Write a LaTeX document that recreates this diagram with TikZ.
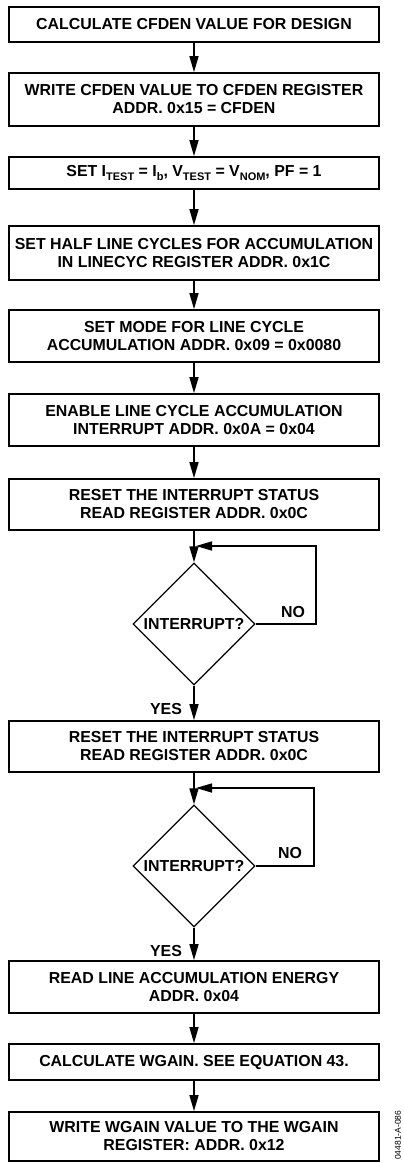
\documentclass[tikz,border=0pt]{standalone}
\usepackage{fontspec}
\setmainfont{Liberation Sans}
\usetikzlibrary{arrows.meta,shapes.geometric}
\newcommand\lsub[1]{\raisebox{-3.5pt}{\fontsize{11}{11}\selectfont #1}}
\begin{document}
\begin{tikzpicture}[x=1pt,y=-1pt,
  txt/.style={font=\bfseries\fontsize{15.9}{18}\selectfont},
  box/.style={txt, draw, line width=1.8pt, minimum width=370pt, inner sep=0pt, align=center},
  dec/.style={txt, draw, diamond, aspect=1, line width=1.3pt, minimum width=122pt, minimum height=122pt, inner sep=0pt},
  arr/.style={line width=1.5pt, -{Triangle[length=16pt,width=9pt]}},
  lbl/.style={txt, inner sep=0pt}
]
\useasboundingbox (0,0) rectangle (404,1163);

\node[box, minimum height=35pt] (b1) at (194,24.5) {CALCULATE CFDEN VALUE FOR DESIGN};
\node[box, minimum height=53pt] (b2) at (194,99.5) {WRITE CFDEN VALUE TO CFDEN REGISTER\\ADDR. 0x15 = CFDEN};
\node[box, minimum height=32pt] (b3) at (194,173) {SET I\lsub{TEST} = I\lsub{b}, V\lsub{TEST} = V\lsub{NOM}, PF = 1};
\node[box, minimum height=54pt] (b4) at (194,253) {SET HALF LINE CYCLES FOR ACCUMULATION\\IN LINECYC REGISTER ADDR. 0x1C};
\node[box, minimum height=52pt] (b5) at (194,336) {SET MODE FOR LINE CYCLE\\ACCUMULATION ADDR. 0x09 = 0x0080};
\node[box, minimum height=52pt] (b6) at (194,420) {ENABLE LINE CYCLE ACCUMULATION\\INTERRUPT ADDR. 0x0A = 0x04};
\node[box, minimum height=51pt] (b7) at (194,504.5) {RESET THE INTERRUPT STATUS\\READ REGISTER ADDR. 0x0C};
\node[dec] (d1) at (194,624) {INTERRUPT?};
\node[box, minimum height=51pt] (b8) at (194,746.5) {RESET THE INTERRUPT STATUS\\READ REGISTER ADDR. 0x0C};
\node[dec] (d2) at (194,866) {INTERRUPT?};
\node[box, minimum height=52pt] (b9) at (194,987) {READ LINE ACCUMULATION ENERGY\\ADDR. 0x04};
\node[box, minimum height=36pt] (b10) at (194,1062) {CALCULATE WGAIN. SEE EQUATION 43.};
\node[box, minimum height=49pt] (b11) at (194,1136.5) {WRITE WGAIN VALUE TO THE WGAIN\\REGISTER: ADDR. 0x12};

\node[lbl] (no1) at (293,612) {NO};
\node[lbl] (yes1) at (166,709) {YES};
\node[lbl] (no2) at (290,853) {NO};
\node[lbl] (yes2) at (166,951) {YES};

\node[rotate=90, anchor=west, inner sep=0pt, font=\fontsize{8.5}{9}\selectfont] (fig) at (398,1160) {04481-A-086};

\draw[arr] (b1) -- (b2);
\draw[arr] (b2) -- (b3);
\draw[arr] (b3) -- (b4);
\draw[arr] (b4) -- (b5);
\draw[arr] (b5) -- (b6);
\draw[arr] (b6) -- (b7);
\draw[arr] (b7) -- (d1);
\draw[arr] (d1) -- (b8);
\draw[arr] (b8) -- (d2);
\draw[arr] (d2) -- (b9);
\draw[arr] (b9) -- (b10);
\draw[arr] (b10) -- (b11);

\coordinate (c1) at (316,546);
\coordinate (j1) at (196,546);
\draw[arr] (d1.east) -| (c1) -- (j1);
\coordinate (c2) at (314,788);
\coordinate (j2) at (196,788);
\draw[arr] (d2.east) -| (c2) -- (j2);
\end{tikzpicture}
\end{document}
